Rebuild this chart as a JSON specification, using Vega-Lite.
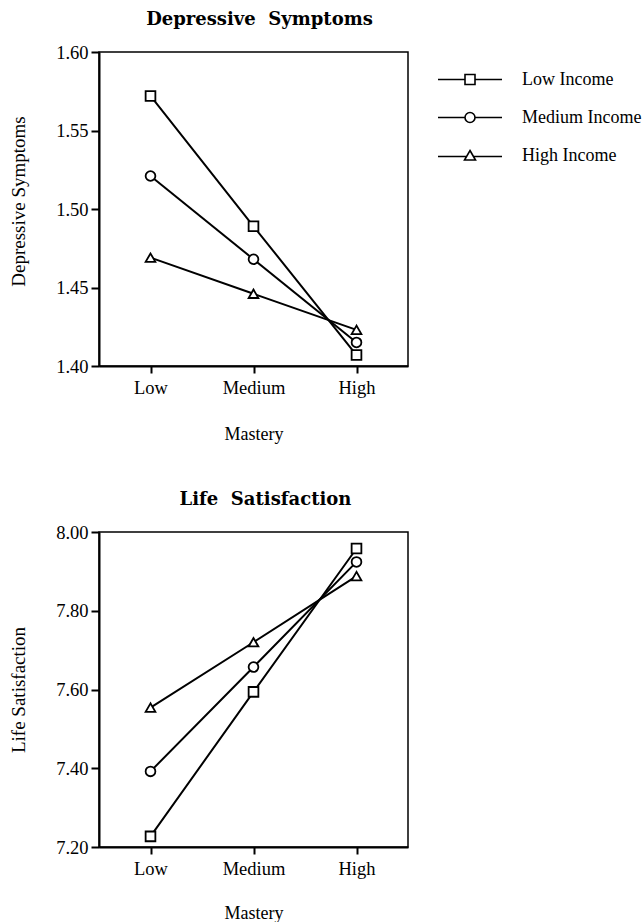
{
  "$schema": "https://vega.github.io/schema/vega-lite/v6.json",
  "background": "white",
  "padding": {"left": 8, "top": 10, "right": 0, "bottom": 0},
  "config": {
    "font": "Liberation Serif",
    "view": {"stroke": "black", "strokeWidth": 1.5},
    "axis": {
      "domainColor": "black", "domainWidth": 2, "tickColor": "black", "tickWidth": 2,
      "labelColor": "black", "titleColor": "black",
      "labelFont": "Liberation Serif", "titleFont": "Liberation Serif",
      "labelFontSize": 18.5, "titleFontWeight": "normal", "grid": false
    },
    "axisX": {"titleFontSize": 18},
    "axisY": {"titleFontSize": 19},
    "title": {"font": "DejaVu Serif", "fontSize": 18, "fontWeight": "bold", "color": "black"},
    "legend": {
      "labelFont": "Liberation Serif", "labelFontSize": 18, "labelColor": "black",
      "symbolSize": 100, "padding": 0
    }
  },
  "datasets": {
    "dep": [
      {"income": "Low Income", "mastery": "Low", "value": 1.572},
      {"income": "Low Income", "mastery": "Medium", "value": 1.489},
      {"income": "Low Income", "mastery": "High", "value": 1.407},
      {"income": "Medium Income", "mastery": "Low", "value": 1.521},
      {"income": "Medium Income", "mastery": "Medium", "value": 1.468},
      {"income": "Medium Income", "mastery": "High", "value": 1.415},
      {"income": "High Income", "mastery": "Low", "value": 1.469},
      {"income": "High Income", "mastery": "Medium", "value": 1.446},
      {"income": "High Income", "mastery": "High", "value": 1.423}
    ],
    "life": [
      {"income": "Low Income", "mastery": "Low", "value": 7.227},
      {"income": "Low Income", "mastery": "Medium", "value": 7.594},
      {"income": "Low Income", "mastery": "High", "value": 7.958},
      {"income": "Medium Income", "mastery": "Low", "value": 7.392},
      {"income": "Medium Income", "mastery": "Medium", "value": 7.657},
      {"income": "Medium Income", "mastery": "High", "value": 7.924},
      {"income": "High Income", "mastery": "Low", "value": 7.554},
      {"income": "High Income", "mastery": "Medium", "value": 7.72},
      {"income": "High Income", "mastery": "High", "value": 7.888}
    ]
  },
  "spacing": 46,
  "resolve": {"scale": {"shape": "independent"}, "legend": {"shape": "independent"}},
  "vconcat": [
    {
      "width": 309, "height": 314,
      "title": {"text": "Depressive\u00a0 Symptoms", "offset": 14, "dx": 6},
      "data": {"name": "dep"},
      "resolve": {"scale": {"shape": "independent"}, "legend": {"shape": "independent"}},
      "encoding": {
        "x": {"field": "mastery", "type": "ordinal", "sort": ["Low", "Medium", "High"],
              "scale": {"type": "point", "padding": 0.5},
              "axis": {"title": "Mastery", "labelAngle": 0, "tickSize": 7, "labelPadding": 5.5, "titlePadding": 28}},
        "y": {"field": "value", "type": "quantitative",
              "scale": {"domain": [1.4, 1.6], "zero": false, "nice": false},
              "axis": {"title": "Depressive Symptoms", "values": [1.4, 1.45, 1.5, 1.55, 1.6], "format": ".2f",
                       "tickSize": 8, "labelPadding": 3, "titlePadding": 27, "titleY": 149}}
      },
      "layer": [
        {"mark": {"type": "line", "color": "black", "strokeWidth": 2},
         "encoding": {"detail": {"field": "income"}}},
        {"mark": {"type": "point", "filled": true, "fill": "white", "stroke": "black", "strokeWidth": 1.8, "opacity": 1, "size": 95},
         "encoding": {
           "shape": {"field": "income", "type": "nominal",
                     "scale": {"domain": ["Low Income", "Medium Income", "High Income"], "range": ["square", "circle", "triangle-up"]},
                     "legend": null}
         }},
        {"transform": [{"filter": "datum.value < 0"}],
         "mark": {"type": "point", "filled": false, "color": "black", "strokeWidth": 1.5, "opacity": 1},
         "encoding": {
           "shape": {"field": "income", "type": "nominal",
                     "scale": {"domain": ["Low Income", "Medium Income", "High Income"],
                               "range": ["M-6.4,0H-1M1,0H6.4M-1,-1H1V1H-1Z",
                                         "M-6.4,0H-1M1,0H6.4M1,0A1,1,0,1,1,-1,0A1,1,0,1,1,1,0Z",
                                         "M-6.4,0.2H-0.7M0.7,0.2H6.4M0,-1L1.1,0.9L-1.1,0.9Z"]},
                     "legend": {"title": null, "orient": "none", "legendX": 362, "legendY": 18.5,
                                "labelOffset": 43, "rowPadding": 20,
                                "symbolFillColor": "white", "symbolStrokeColor": "black", "symbolStrokeWidth": 1.6,
                                "symbolOpacity": 1, "symbolSize": 100,
                                "encode": {"symbols": {
                                  "fill": {"value": "white"}, "stroke": {"value": "black"},
                                  "strokeWidth": {"value": 1.6}, "opacity": {"value": 1}, "size": {"value": 100}
                                }}}}
         }}
      ]
    },
    {
      "width": 309, "height": 315,
      "title": {"text": "Life\u00a0 Satisfaction", "offset": 14, "dx": 12},
      "data": {"name": "life"},
      "encoding": {
        "x": {"field": "mastery", "type": "ordinal", "sort": ["Low", "Medium", "High"],
              "scale": {"type": "point", "padding": 0.5},
              "axis": {"title": "Mastery", "labelAngle": 0, "tickSize": 7, "labelPadding": 5.5, "titlePadding": 26.5}},
        "y": {"field": "value", "type": "quantitative",
              "scale": {"domain": [7.2, 8.0], "zero": false, "nice": false},
              "axis": {"title": "Life Satisfaction", "values": [7.2, 7.4, 7.6, 7.8, 8.0], "format": ".2f",
                       "tickSize": 8, "labelPadding": 3, "titlePadding": 27}}
      },
      "layer": [
        {"mark": {"type": "line", "color": "black", "strokeWidth": 2},
         "encoding": {"detail": {"field": "income"}}},
        {"mark": {"type": "point", "filled": true, "fill": "white", "stroke": "black", "strokeWidth": 1.8, "opacity": 1, "size": 95},
         "encoding": {
           "shape": {"field": "income", "type": "nominal",
                     "scale": {"domain": ["Low Income", "Medium Income", "High Income"], "range": ["square", "circle", "triangle-up"]},
                     "legend": null}
         }}
      ]
    }
  ]
}
